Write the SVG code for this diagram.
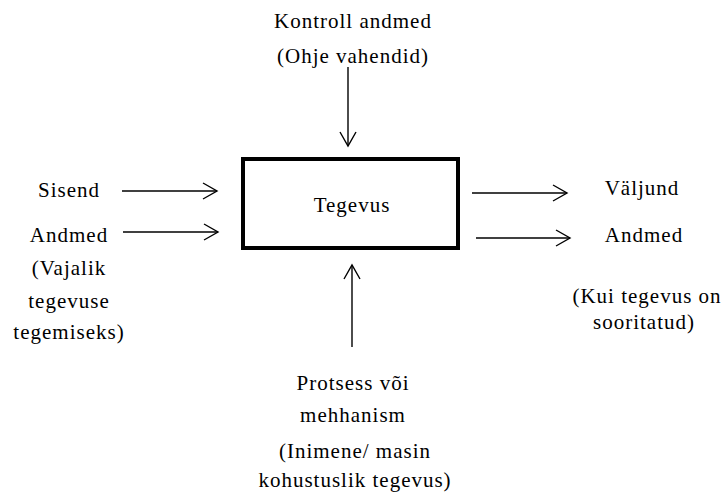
<svg xmlns="http://www.w3.org/2000/svg" width="726" height="503" viewBox="0 0 726 503">
<style>
  text { font-family: "Liberation Serif", "Times New Roman", serif; font-size: 21px; letter-spacing: 1px; fill: #000; text-anchor: middle; }
  .conn { stroke: #000; stroke-width: 1.4; fill: none; marker-end: url(#arr); }
  .box { fill: #fff; stroke: #000; stroke-width: 4; }
</style>
<defs>
  <marker id="arr" viewBox="-16 -10 18 20" markerWidth="18" markerHeight="20" refX="0" refY="0" orient="auto" markerUnits="userSpaceOnUse">
    <path d="M-14,-8 L0,0 L-14,8" fill="none" stroke="#000" stroke-width="1.4"/>
  </marker>
</defs>
<rect width="726" height="503" fill="#fff"/>
<g id="connectors">
  <line class="conn" x1="122" y1="191" x2="217" y2="191"/>
  <line class="conn" x1="123" y1="232" x2="218" y2="232"/>
  <line class="conn" x1="472" y1="193" x2="567" y2="193"/>
  <line class="conn" x1="476" y1="238" x2="570" y2="238"/>
  <line class="conn" x1="348" y1="67" x2="348" y2="146"/>
  <line class="conn" x1="352" y1="347" x2="352" y2="265"/>
</g>
<g id="tegevus">
  <rect class="box" x="243" y="159" width="215" height="89"/>
  <text x="352" y="212">Tegevus</text>
</g>
<g id="kontroll">
  <text x="353" y="28">Kontroll andmed</text>
  <text x="353" y="63">(Ohje vahendid)</text>
</g>
<g id="sisend">
  <text x="69" y="197">Sisend</text>
</g>
<g id="andmed-in">
  <text x="69" y="242">Andmed</text>
  <text x="69" y="275">(Vajalik</text>
  <text x="69" y="308">tegevuse</text>
  <text x="69" y="339">tegemiseks)</text>
</g>
<g id="valjund">
  <text x="642" y="195">Väljund</text>
</g>
<g id="andmed-out">
  <text x="644" y="242">Andmed</text>
  <text x="647" y="303">(Kui tegevus on</text>
  <text x="644" y="329">sooritatud)</text>
</g>
<g id="protsess">
  <text x="353" y="390">Protsess või</text>
  <text x="353" y="422">mehhanism</text>
  <text x="355" y="458">(Inimene/ masin</text>
  <text x="355" y="487">kohustuslik tegevus)</text>
</g>
</svg>
